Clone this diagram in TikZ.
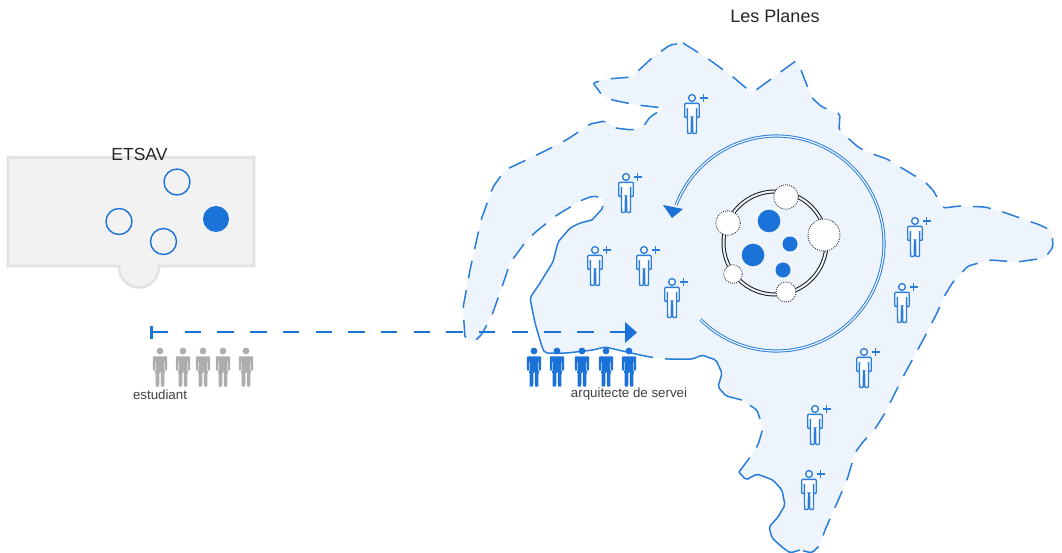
\documentclass[tikz,border=0pt]{standalone}
\usepackage{fontspec}
\setmainfont{Liberation Sans}
\definecolor{bluemain}{HTML}{1B72D8}
\definecolor{blueline}{HTML}{2A7DD9}
\definecolor{regionfill}{HTML}{EDF4FC}
\definecolor{greyman}{HTML}{ADADAD}
\definecolor{wallfill}{HTML}{F2F2F2}
\definecolor{wallline}{HTML}{E2E3E4}
\tikzset{
  x=1pt,y=-1pt,
  edgeline/.style={draw=blueline,line width=1.5pt,rounded corners=2pt,line join=round},
  edgedash/.style={edgeline,dash pattern=on 18pt off 12pt},
  personshape/.pic={
    \path[pic actions,rounded corners=0.8pt] (-7.2,5.4)--(7.2,5.4)--(7.2,19.5)--(4.6,19.5)--(4.6,10)--(4.4,35.5)--(0.8,35.5)--(0.5,19)--(-0.5,19)--(-0.8,35.5)--(-4.4,35.5)--(-4.6,10)--(-4.6,19.5)--(-7.2,19.5)--cycle;
    \path[pic actions] (0,0) circle (3.4);
  },
  openperson/.pic={
    \path pic[draw=blueline,fill=white,line width=1.35pt] {personshape};
    \draw[blueline,line width=1.1pt] (7.7,0)--(15.7,0) (11.7,-4)--(11.7,4);
  },
  solidperson/.pic={
    \path pic[fill=#1,draw=none] {personshape};
    \fill[#1] (-4.6,10) rectangle (4.6,22);
    \draw[white,opacity=.55,line width=.6pt] (-4.6,11)--(-4.6,19.5) (4.6,11)--(4.6,19.5) (0,21)--(0,35.5);
  },
  hollowdot/.style={draw=bluemain,fill=none,line width=1.4pt},
  bubble/.style={draw=black!80,fill=white,line width=.9pt,dash pattern=on .9pt off 1.2pt},
  label/.style={inner sep=0pt,anchor=center},
}
\def\segA{(683,43)--(707,58)--(733,77)--(752,93)--(797,60)--(808,88)--(812,98)--(822,107)--(840,114)--(839,130)--(858,147)--(867,152)--(887,159)--(915,176)--(923,180)--(933,190)--(943,208)--(960,206)--(985,207)--(1003,212)--(1040,225)--(1052,231)--(1053,247)--(1045,258)--(1017,262)--(990,260)--(968,266)--(953,282)--(945,295)--(937,313)--(923,340)--(903,377)--(885,413)--(875,429)--(862,443)--(855,453)--(847,480)--(837,503)--(825,530)--(820,545)--(812,553)--(800,550)}
\def\segB{(800,550)--(790,553)--(782,547)--(772,538)--(769,527)--(778,517)--(785,505)--(782,490)--(773,480)--(757,474)--(746,480)--(739,472)}
\def\segC{(739,472)--(748,460)--(758,445)--(763,428)--(757,410)--(742,400)}
\def\segD{(742,400)--(726,396)--(718,387)--(722,373)--(716,360)--(702,355)--(693,359)--(683,359)}
\def\segE{(683,359)--(667,359)--(650,357)--(640,355)}
\def\segF{(640,355)--(605,347)--(593,350)--(567,353)--(545,353)--(542,347)--(535,323)--(530,298)--(540,283)--(553,262)--(558,242)--(570,228)--(580,223)--(592,220)}
\def\segG{(592,220)--(603,208)--(603,198)--(593,196)--(582,200)--(557,215)--(538,230)--(527,240)--(510,263)--(502,287)--(492,315)--(482,334)--(474,342)--(465,338)--(463,308)--(470,270)--(481,220)--(493,187)--(505,170)--(522,162)--(547,150)--(568,139)--(590,124)--(605,121)--(615,128)--(632,130)--(643,127)--(650,117)--(664,108)--(637,105)--(612,100)--(602,95)--(593,83)--(607,79)--(632,77)--(638,71)--(653,57)--(670,45)--(683,43)}
\begin{document}
\begin{tikzpicture}
\useasboundingbox (0,0) rectangle (1062,553);
% region
\fill[regionfill,rounded corners=2pt] \segA--\segB--\segC--\segD--\segE--\segF--\segG--cycle;
\path[edgedash] \segA;
\path[edgeline] \segB;
\path[edgedash] \segC;
\path[edgeline] \segD;
\path[edgedash] \segE;
\path[edgeline] \segF;
\path[edgedash] \segG;
% building
\draw[draw=wallline,fill=wallfill,line width=2.6pt] (8,157.5)--(254,157.5)--(254,266)--(159,266)
  .. controls (159,280) and (149,287.5) .. (139,287.5)
  .. controls (129,287.5) and (119,280) .. (119,266)--(8,266)--cycle;
\draw[hollowdot] (177,182) circle (13);
\draw[hollowdot] (119,221.5) circle (13);
\draw[hollowdot] (163.5,241.5) circle (13);
\fill[bluemain] (216,219) circle (13);
\node[label,font=\fontsize{17.5}{20}\selectfont,text=black!85] (etsav) at (139.5,154.5) {ETSAV};
\node[label,font=\fontsize{18}{20}\selectfont,text=black!85] (planes) at (775,16.5) {Les Planes};
% central ring
\draw[black!90,line width=1pt,double=regionfill,double distance=2pt] (775,243) circle (51.5);
\fill[bluemain] (769,221) circle (11.3) (753,255) circle (11.3) (790,244) circle (7.5) (783,270) circle (7.5);
\draw[bubble] (786,197) circle (12.3);
\draw[bubble] (728,223) circle (12.3);
\draw[bubble] (824,235) circle (16);
\draw[bubble] (733,274) circle (9.3);
\draw[bubble] (786,292) circle (10);
% circular arrow
\draw[blueline,line width=.95pt,double=regionfill,double distance=1.2pt] plot[domain=135:-159,samples=150] ({776.5+107.5*cos(\x)},{243.5+107.5*sin(\x)});
\fill[bluemain] (663,205)--(683,209)--(672,218)--cycle;
% journey arrow
\coordinate (jstart) at (152,332);
\coordinate (jend) at (626,332);
\draw[bluemain,line width=2.8pt,dash pattern=on 16.4pt off 16.3pt] (jstart)--(jend);
\draw[bluemain,line width=2.8pt] (151.5,326)--(151.5,338.5);
\fill[bluemain] (625,322)--(637,332.5)--(625,343)--cycle;
% people
\foreach \px/\py in {692/98,626/177,595/250,644/250,672/282,915/221,902/287,864/352,815/409,809/474}
  \pic at (\px,\py) {openperson};
\foreach \px in {534,557,582,606,629}
  \pic at (\px,351) {solidperson=bluemain};
\foreach \px in {160,183,203,223,246}
  \pic at (\px,351) {solidperson=greyman};
\node[label,font=\fontsize{13.3}{15}\selectfont,text=black!75] (student) at (160,394.5) {estudiant};
\node[label,font=\fontsize{13.3}{15}\selectfont,text=black!75] (architect) at (629,394.5) {arquitecte de servei};
\end{tikzpicture}
\end{document}
